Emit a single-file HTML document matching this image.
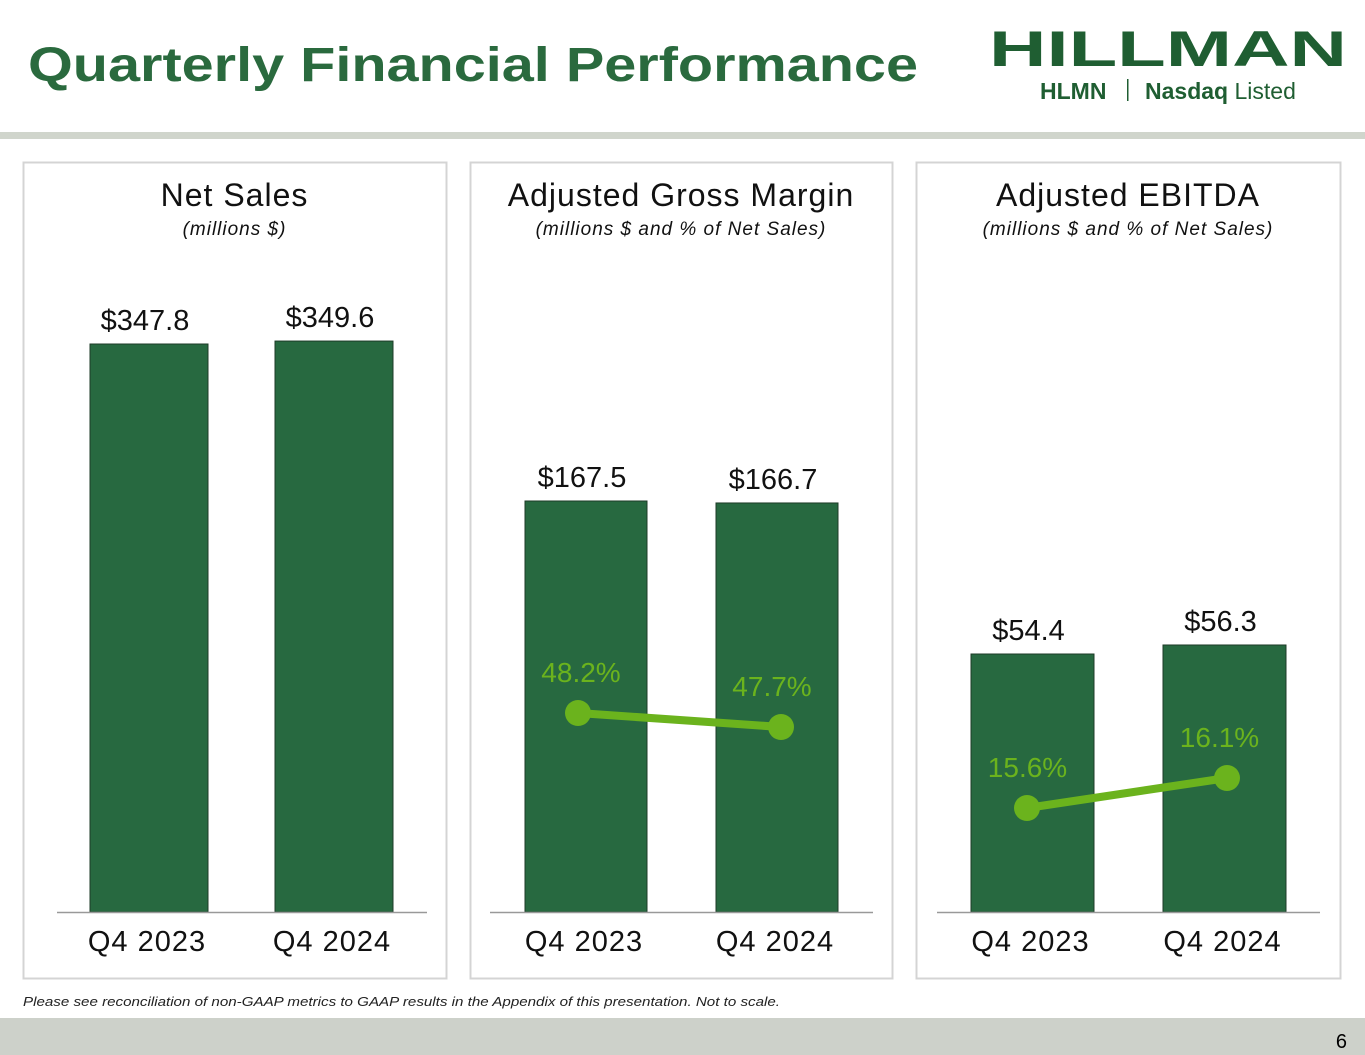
<!DOCTYPE html>
<html><head><meta charset="utf-8"><style>
body{margin:0;width:1365px;height:1055px;background:#fff;font-family:"Liberation Sans",sans-serif;overflow:hidden;position:relative}
</style></head><body>
<svg id="s" width="1365" height="1055" xmlns="http://www.w3.org/2000/svg" style="position:absolute;left:0;top:0">
<text x="28" y="81" font-size="48" font-weight="bold" fill="#2a6a3e" textLength="890" lengthAdjust="spacingAndGlyphs">Quarterly Financial Performance</text>
<g>
<text x="1168" y="66" font-size="50" font-weight="900" fill="#1f5e32" text-anchor="middle" textLength="358" lengthAdjust="spacingAndGlyphs">HILLMAN</text>
<text x="1040" y="99" font-size="23" font-weight="bold" fill="#1f5e32">HLMN</text>
<rect x="1127" y="79" width="1.5" height="22" fill="#1f5e32"/>
<text x="1145" y="99" font-size="23" fill="#1f5e32"><tspan font-weight="bold">Nasdaq</tspan> Listed</text>
</g>
<rect x="0" y="132" width="1365" height="7" fill="#d0d5cc"/>
<rect x="0" y="1018" width="1365" height="37" fill="#cdd1ca"/>
<text x="1347" y="1048" font-size="20" fill="#000" text-anchor="end">6</text>
<text x="23" y="1006" font-size="13" font-style="italic" fill="#222" textLength="757" lengthAdjust="spacingAndGlyphs">Please see reconciliation of non-GAAP metrics to GAAP results in the Appendix of this presentation. Not to scale.</text>
<g id="charts"></g>
</svg>
<script>
const categories = ["Q4 2023", "Q4 2024"];
const netSales = [347.8, 349.6];
const grossMargin = [167.5, 166.7];
const grossMarginPct = [48.2, 47.7];
const ebitda = [54.4, 56.3];
const ebitdaPct = [15.6, 16.1];

const NS = "http://www.w3.org/2000/svg";
const root = document.getElementById("charts");
function el(tag, attrs, parent, text){
  const e = document.createElementNS(NS, tag);
  for (const k in attrs) e.setAttribute(k, attrs[k]);
  if (text !== undefined) e.textContent = text;
  (parent || root).appendChild(e);
  return e;
}
const BASE = 912;
const panels = [
  {name:"net-sales", box:[23,162,423,816], title:"Net Sales", sub:"(millions $)", bars:netSales, barX:[90,275], barW:118, scale:568/347.8, axis:[57,427], pct:null},
  {name:"gross-margin", box:[470,162,422,816], title:"Adjusted Gross Margin", sub:"(millions $ and % of Net Sales)", bars:grossMargin, barX:[525,716], barW:122, scale:411/167.5, axis:[490,873], pct:grossMarginPct, pctX:[578,781], pctRef:[48.2,713], pctScale:28},
  {name:"ebitda", box:[916,162,424,816], title:"Adjusted EBITDA", sub:"(millions $ and % of Net Sales)", bars:ebitda, barX:[971,1163], barW:123, scale:258/54.4, axis:[937,1320], pct:ebitdaPct, pctX:[1027,1227], pctRef:[15.6,808], pctScale:60}
];
panels.forEach(p=>{
  const g = el("g", {});
  
  
  el("rect", {x:p.box[0]+0.5, y:p.box[1]+0.5, width:p.box[2], height:p.box[3], fill:"#fff", stroke:"#d4d4d4", "stroke-width":2}, g);
  const cx = p.box[0] + p.box[2]/2;
  const t = el("text", {x:cx, y:206, "font-size":32, "text-anchor":"middle", fill:"#111", "letter-spacing":"1"}, g, p.title);
  
  
  const st = el("text", {x:cx, y:235, "font-size":19, "font-style":"italic", "text-anchor":"middle", fill:"#111", "letter-spacing":"1"}, g, p.sub);
  
  
  const yv = v => BASE - v * p.scale;
  p.bars.forEach((v,i)=>{
    const top = yv(v);
    const b = el("rect", {x:p.barX[i], y:top, width:p.barW, height:BASE-top, fill:"#276940", stroke:"#1d3b27", "stroke-width":1}, g);
    
    
    const lb = el("text", {x:p.barX[i]+p.barW/2-4, y:top-14, "font-size":29, "text-anchor":"middle", fill:"#111"}, g, "$" + v.toFixed(1));
    
    
    const cl = el("text", {x:p.barX[i]+p.barW/2-2, y:951, "font-size":29, "text-anchor":"middle", fill:"#111", "letter-spacing":"1"}, g, categories[i]);
    
    
  });
  const ax = el("line", {x1:p.axis[0], x2:p.axis[1], y1:BASE+0.5, y2:BASE+0.5, stroke:"#999", "stroke-width":1.5}, g);
  
  
  if (p.pct){
    const yp = v => p.pctRef[1] - (v - p.pctRef[0]) * p.pctScale;
    const ln = el("line", {x1:p.pctX[0], y1:yp(p.pct[0]), x2:p.pctX[1], y2:yp(p.pct[1]), stroke:"#6bb31d", "stroke-width":8}, g);
    
    
    p.pct.forEach((v,i)=>{
      const c = el("circle", {cx:p.pctX[i], cy:yp(v), r:13, fill:"#6bb31d"}, g);
      
      
      const pl = el("text", {x:p.barX[i]+p.barW/2-5, y:yp(v)-31, "font-size":28, "text-anchor":"middle", fill:"#6bb31d"}, g, v.toFixed(1) + "%");
      
      
    });
  }
});
</script>
</body></html>
